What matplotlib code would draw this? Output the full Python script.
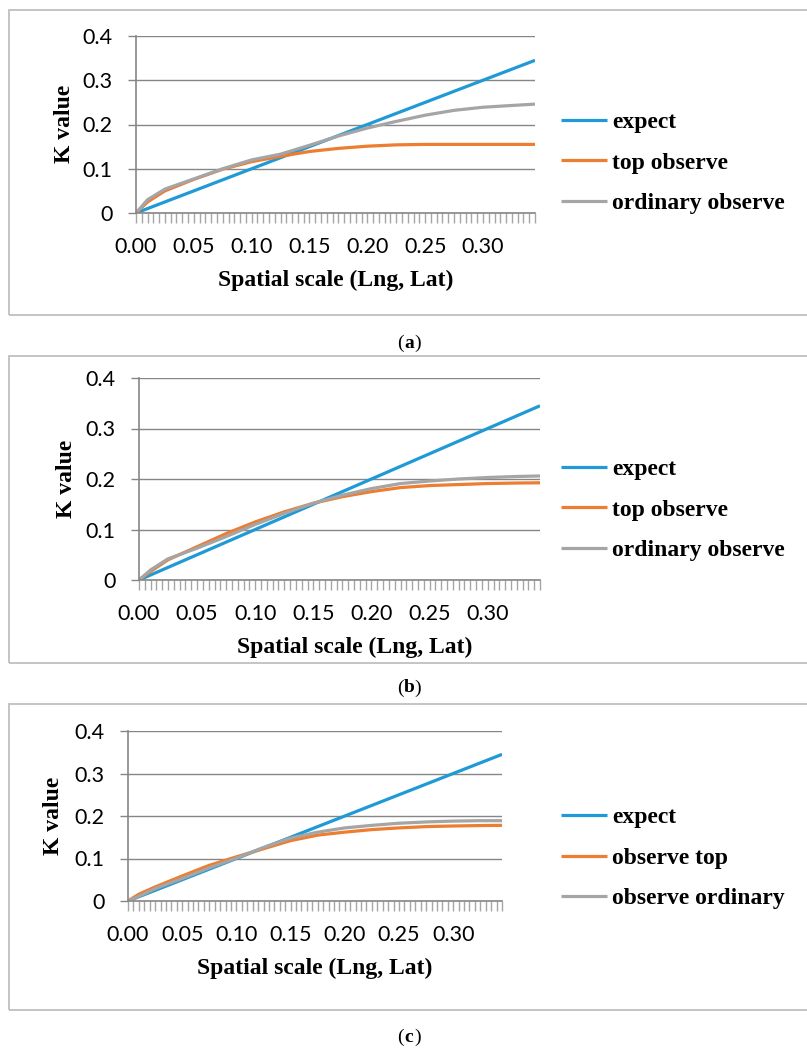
import matplotlib
matplotlib.use('Agg')
import matplotlib.pyplot as plt
from matplotlib.patches import Rectangle

# ---- data ----
r = [0, 0.01, 0.025, 0.05, 0.075, 0.10, 0.125, 0.15, 0.175, 0.20,
     0.225, 0.25, 0.275, 0.30, 0.325, 0.345]

expect_r = [0, 0.345]
expect_k = [0, 0.345]

top_a = [0, 0.025, 0.050, 0.076, 0.099, 0.116, 0.128, 0.139, 0.146, 0.151,
         0.154, 0.155, 0.155, 0.155, 0.155, 0.155]
ord_a = [0, 0.030, 0.054, 0.077, 0.100, 0.120, 0.133, 0.153, 0.174, 0.192,
         0.207, 0.221, 0.232, 0.239, 0.243, 0.246]

top_b = [0, 0.017, 0.040, 0.066, 0.092, 0.115, 0.135, 0.152, 0.165, 0.175,
         0.183, 0.187, 0.189, 0.191, 0.192, 0.1925]
ord_b = [0, 0.020, 0.042, 0.063, 0.086, 0.110, 0.132, 0.152, 0.168, 0.181,
         0.191, 0.196, 0.200, 0.203, 0.205, 0.206]

top_c = [0, 0.016, 0.033, 0.059, 0.084, 0.104, 0.123, 0.142, 0.155, 0.162,
         0.168, 0.172, 0.175, 0.1765, 0.1775, 0.178]
ord_c = [0, 0.011, 0.029, 0.053, 0.078, 0.101, 0.126, 0.148, 0.162, 0.172,
         0.178, 0.183, 0.186, 0.188, 0.189, 0.189]

labels_ab = ['expect', 'top observe', 'ordinary observe']
labels_c = ['expect', 'observe top', 'observe ordinary']

x_ticks = [0, 0.05, 0.10, 0.15, 0.20, 0.25, 0.30]
y_ticks = [0, 0.1, 0.2, 0.3, 0.4]
y_ticklabels = ['0', '0.1', '0.2', '0.3', '0.4']

BLUE = '#1f9ad6'
ORANGE = '#ed7d31'
GRAY = '#a5a5a5'
AXCOL = '#868686'
SERIF = 'Liberation Serif'
SANS = 'Lato'

W, H = 807, 1052
fig = plt.figure(figsize=(W / 100, H / 100), dpi=100)


def fx(x):
    return x / W


def fy(y):
    return 1 - y / H


def draw_panel(box, ax_box, top, ordinary, labels, ylab_pos, xlab_pos, leg_y, letter, cap_y):
    # outer frame
    bt, bb = box
    fig.add_artist(Rectangle((fx(9), fy(bb)), fx(820), (bb - bt) / H, transform=fig.transFigure,
                             fill=False, edgecolor='#bfbfbf', linewidth=1.3))

    left, right, ytop, ybot = ax_box
    ax = fig.add_axes([fx(left), fy(ybot), (right - left) / W, (ybot - ytop) / H])
    ax.plot(expect_r, expect_k, color=BLUE, lw=2.3, solid_capstyle='butt', label=labels[0])
    ax.plot(r, top, color=ORANGE, lw=2.3, solid_capstyle='butt', label=labels[1])
    ax.plot(r, ordinary, color=GRAY, lw=2.3, solid_capstyle='butt', label=labels[2])

    ax.set_xlim(0, 0.345)
    ax.set_ylim(0, 0.4)
    ax.set_xticks(x_ticks)
    ax.set_xticklabels(['%.2f' % v for v in x_ticks])
    ax.set_xticks([i * 0.005 for i in range(70)], minor=True)
    ax.set_yticks(y_ticks)
    ax.set_yticklabels(y_ticklabels)
    ax.tick_params(axis='x', which='both', direction='out', length=7, width=1,
                   color='#a6a6a6', pad=10)
    ax.tick_params(axis='y', direction='out', length=6, width=1, color=AXCOL, pad=11)
    for t in ax.get_xticklabels() + ax.get_yticklabels():
        t.set_fontfamily(SANS)
        t.set_fontsize(15.5)
    ax.grid(axis='y', color=AXCOL, lw=1)
    ax.set_axisbelow(True)
    for s in ['top', 'right']:
        ax.spines[s].set_visible(False)
    for s in ['left', 'bottom']:
        ax.spines[s].set_color(AXCOL)
        ax.spines[s].set_linewidth(1.2)

    fig.text(fx(ylab_pos[0]), fy(ylab_pos[1]), 'K value', rotation=90, ha='center', va='center',
             fontfamily=SERIF, fontweight='bold', fontsize=17)
    fig.text(fx(xlab_pos[0]), fy(xlab_pos[1]), 'Spatial scale (Lng, Lat)', ha='center', va='center',
             fontfamily=SERIF, fontweight='bold', fontsize=17)

    ax.legend(loc='center left', bbox_to_anchor=(fx(561), fy(leg_y)), bbox_transform=fig.transFigure,
              frameon=False, borderpad=0, borderaxespad=0, handlelength=1.95, handletextpad=0.2,
              labelspacing=0.8, prop={'family': SERIF, 'weight': 'bold', 'size': 17})

    # caption like "(a)" with bold letter
    fig.text(fx(409), fy(cap_y), letter, ha='center', va='center', fontfamily=SERIF,
             fontweight='bold', fontsize=14)
    fig.text(fx(404), fy(cap_y), '(', ha='right', va='center', fontfamily=SERIF, fontsize=14)
    fig.text(fx(414), fy(cap_y), ')', ha='left', va='center', fontfamily=SERIF, fontsize=14)


draw_panel((10, 315), (136, 535, 36, 213), top_a, ord_a, labels_ab, (65, 124), (336, 280), 163, 'a', 343)
draw_panel((356, 663), (139, 540, 378, 580), top_b, ord_b, labels_ab, (67, 479), (355, 647), 510, 'b', 688)
draw_panel((704, 1010), (128, 502, 731, 901), top_c, ord_c, labels_c, (54, 816), (315, 968), 858, 'c', 1037)

fig.savefig('out.png', dpi=100)
